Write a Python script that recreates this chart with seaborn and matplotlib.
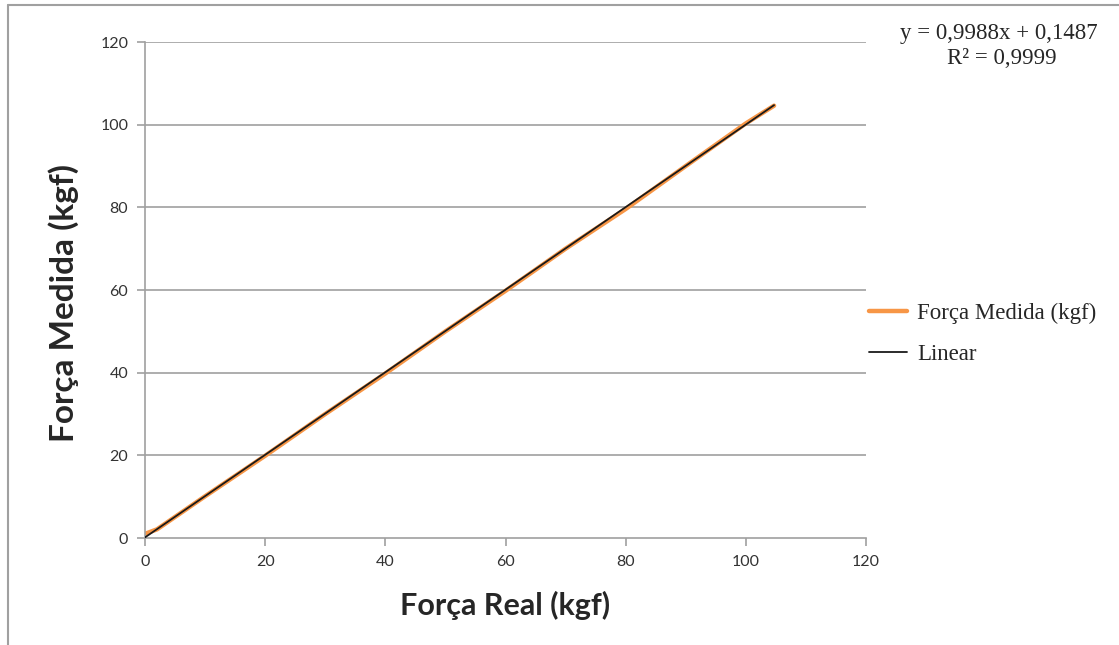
import numpy as np
import pandas as pd
import matplotlib
matplotlib.use('Agg')
import matplotlib.pyplot as plt
import seaborn as sns
from matplotlib.lines import Line2D

# readings: real force vs measured force (kgf)
forca_real = [0, 2, 10, 20, 30, 40, 50, 60, 70, 80, 90, 100, 104.7]
forca_medida = [1.0, 2.1, 10.1, 19.9, 30.0, 39.8, 50.0, 59.8, 70.0, 79.6, 90.0, 100.3, 104.6]

# trendline given by the chart
slope = 0.9988
intercept = 0.1487
r2 = 0.9999

x_ticks = [0, 20, 40, 60, 80, 100, 120]
y_ticks = [0, 20, 40, 60, 80, 100, 120]

df = pd.DataFrame({'real': forca_real, 'medida': forca_medida})
fit_x = np.array([forca_real[0], forca_real[-1]])
fit = pd.DataFrame({'real': fit_x, 'linear': slope * fit_x + intercept})

sns.set_style('white')
plt.rcParams['font.family'] = ['Lato', 'DejaVu Sans']

fig = plt.figure(figsize=(11.19, 6.45), dpi=100)
ax = fig.add_axes([145 / 1119, 1 - 538 / 645, (866 - 145) / 1119, (538 - 42) / 645])

grid_c = '#a0a0a0'
for v in y_ticks[1:]:
    ax.axhline(v, color=grid_c, lw=1.2, zorder=0)

sns.lineplot(data=df, x='real', y='medida', color='#f79646', lw=3.2,
             estimator=None, sort=False, ax=ax, zorder=2)
sns.lineplot(data=fit, x='real', y='linear', color='#1a1a1a', lw=1.3,
             estimator=None, sort=False, ax=ax, zorder=3)

ax.set_xlim(0, 120)
ax.set_ylim(0, 120)
ax.set_xticks(x_ticks)
ax.set_yticks(y_ticks)
ax.tick_params(axis='both', direction='out', length=6, width=1.2, color=grid_c,
               labelsize=11.5, labelcolor='#333333', pad=6, left=True, bottom=True)
for s in ['top', 'right']:
    ax.spines[s].set_visible(False)
for s in ['left', 'bottom']:
    ax.spines[s].set_color(grid_c)
    ax.spines[s].set_linewidth(1.2)

ax.set_xlabel('Força Real (kgf)', fontsize=22, fontweight='bold', labelpad=16)
ax.set_ylabel('Força Medida (kgf)', fontsize=24, fontweight='bold')
ax.yaxis.set_label_coords(-0.091, 0.474)

serif = ['Liberation Serif', 'DejaVu Serif']
handles = [Line2D([], [], color='#f79646', lw=3.2),
           Line2D([], [], color='#1a1a1a', lw=1.3)]
fig.legend(handles, ['Força Medida (kgf)', 'Linear'], loc='center left',
           bbox_to_anchor=(869 / 1119, 1 - 334 / 645), frameon=False,
           prop={'family': serif, 'size': 16.5}, handlelength=1.65,
           labelspacing=0.9, handletextpad=0.45, borderpad=0, borderaxespad=0)

fig.text(999 / 1119, 1 - 33 / 645, 'y = 0,9988x + 0,1487', ha='center', va='center',
         family=serif, fontsize=16.5)
fig.text(1002 / 1119, 1 - 59 / 645, 'R² = 0,9999', ha='center', va='center',
         family=serif, fontsize=16.5)

# chart outer border (left and top edges visible)
fig.add_artist(Line2D([8 / 1119, 8 / 1119], [0, 1 - 5 / 645], color=grid_c, lw=1.5,
                      transform=fig.transFigure))
fig.add_artist(Line2D([8 / 1119, 1], [1 - 5 / 645, 1 - 5 / 645], color=grid_c, lw=1.5,
                      transform=fig.transFigure))

fig.savefig('out.png', dpi=100)
